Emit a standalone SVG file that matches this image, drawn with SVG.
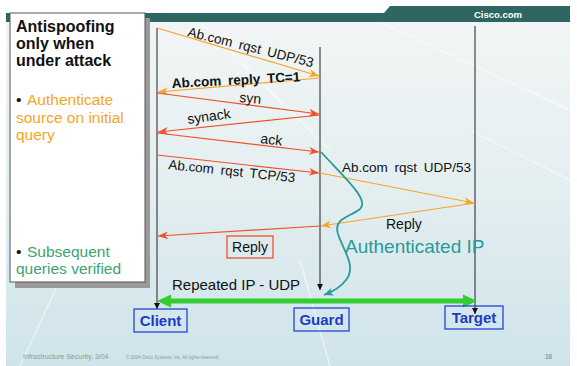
<svg xmlns="http://www.w3.org/2000/svg" width="577" height="366" viewBox="0 0 577 366">
<defs>
<linearGradient id="bg" x1="0" y1="0" x2="0" y2="1">
<stop offset="0" stop-color="#f2f5f5"/>
<stop offset="0.5" stop-color="#e3eef0"/>
<stop offset="1" stop-color="#cfe4ea"/>
</linearGradient>
<marker id="aRed" markerUnits="userSpaceOnUse" markerWidth="12" markerHeight="10" refX="10" refY="4" orient="auto">
<path d="M0,0 L10,4 L0,8 L3,4 z" fill="#f0502a"/>
</marker>
<marker id="aOr" markerUnits="userSpaceOnUse" markerWidth="12" markerHeight="10" refX="10" refY="4" orient="auto">
<path d="M0,0 L10,4 L0,8 L3,4 z" fill="#f7a526"/>
</marker>
<marker id="aBlk" markerUnits="userSpaceOnUse" markerWidth="8" markerHeight="8" refX="6" refY="3" orient="auto">
<path d="M0,0 L6,3 L0,6 z" fill="#111"/>
</marker>
<marker id="aTeal" markerUnits="userSpaceOnUse" markerWidth="12" markerHeight="10" refX="9" refY="4" orient="auto">
<path d="M0,0 L9,4 L0,8 L2,4 z" fill="#2a9a9a"/>
</marker>
</defs>
<style>
.t{font-family:"Liberation Sans",Arial,sans-serif;fill:#111}
.msg{font-size:13.5px;word-spacing:3px}
.red{stroke:#f0502a;stroke-width:1.2;fill:none;marker-end:url(#aRed)}
.or{stroke:#f7a526;stroke-width:1.2;fill:none;marker-end:url(#aOr)}
.life{stroke:#222;stroke-width:1;fill:none;marker-end:url(#aBlk)}
.nb{fill:none;stroke:#2046d8;stroke-width:1.3}
.nt{font-family:"Liberation Sans",Arial,sans-serif;font-weight:bold;font-size:15px;fill:#1a3cc8;text-anchor:middle}
</style>
<rect width="577" height="366" fill="#ffffff"/>
<rect x="6" y="22" width="564" height="344" fill="url(#bg)"/>
<g stroke="#ffffff" stroke-opacity="0.5" stroke-width="1.5" fill="none">
<line x1="200" y1="22" x2="330" y2="150"/>
<line x1="380" y1="22" x2="570" y2="110"/>
<line x1="470" y1="130" x2="570" y2="180"/>
<line x1="20" y1="366" x2="60" y2="280"/>
<line x1="330" y1="366" x2="300" y2="260"/>
</g>
<g id="header">
<path d="M6,13 L384,13 L390,6 L570,6 L570,22 L6,22 z" fill="#2e6662"/>
<text x="498" y="18" font-family="'Liberation Sans',Arial,sans-serif" font-weight="bold" font-size="9.5" fill="#ffffff" text-anchor="middle">Cisco.com</text>
</g>
<g id="sidebox">
<rect x="15" y="18" width="135" height="270" fill="#9a9a9a"/>
<rect x="10" y="13" width="135" height="269" fill="#ffffff" stroke="#555" stroke-width="1"/>
<text class="t" font-weight="bold" font-size="16"><tspan x="16" y="32">Antispoofing</tspan><tspan x="16" y="49">only when</tspan><tspan x="16" y="66">under attack</tspan></text>
<text class="t" font-size="15.5"><tspan x="16" y="105">•</tspan><tspan x="27" y="105" fill="#f7a526">Authenticate</tspan><tspan x="16" y="123" fill="#f7a526">source on initial</tspan><tspan x="16" y="140" fill="#f7a526">query</tspan></text>
<text class="t" font-size="15.5"><tspan x="16" y="257">•</tspan><tspan x="27" y="257" fill="#3aa472">Subsequent</tspan><tspan x="16" y="274" fill="#3aa472">queries verified</tspan></text>
</g>
<g id="connectors">
<line class="life" x1="157" y1="28" x2="157" y2="309"/>
<line class="life" x1="320" y1="47" x2="320" y2="290"/>
<line class="life" x1="475" y1="26" x2="475" y2="314"/>
<line class="or" x1="157" y1="28" x2="319" y2="76"/>
<line class="or" x1="320" y1="78" x2="158" y2="92"/>
<line class="red" x1="157" y1="93" x2="319" y2="114"/>
<line class="red" x1="320" y1="115" x2="158" y2="132"/>
<line class="red" x1="157" y1="133" x2="319" y2="152"/>
<line class="red" x1="157" y1="155" x2="319" y2="173"/>
<line class="or" x1="320" y1="173" x2="474" y2="203"/>
<line class="or" x1="475" y1="203" x2="321" y2="226"/>
<line class="red" x1="320" y1="226" x2="158" y2="236"/>
<path d="M321,152 C345,178 370,200 360,209 C350,217 333,218 338,234 C343,250 357,266 346,280 C340,288 332,292 324,295" stroke="#2a9a9a" stroke-width="1.8" fill="none" marker-end="url(#aTeal)"/>
<line x1="169" y1="301" x2="465" y2="301" stroke="#33cc33" stroke-width="5"/>
<polygon points="157,301 171,294.5 171,307.5" fill="#33cc33"/>
<polygon points="477,301 463,294.5 463,307.5" fill="#33cc33"/>
</g>
<g id="labels">
<text class="t msg" transform="translate(187,36) rotate(14)">Ab.com rqst UDP/53</text>
<text class="t msg" font-weight="bold" word-spacing="2" transform="translate(172,88) rotate(-3)">Ab.com reply TC=1</text>
<text class="t" font-size="14" transform="translate(239,102) rotate(5)">syn</text>
<text class="t" font-size="14" transform="translate(188,124) rotate(-8)">synack</text>
<text class="t" font-size="14" transform="translate(260,143) rotate(7)">ack</text>
<text class="t msg" word-spacing="6" transform="translate(168,169) rotate(6)">Ab.com rqst TCP/53</text>
<text class="t msg" x="342" y="172" font-size="14" word-spacing="4">Ab.com rqst UDP/53</text>
<text class="t" x="386" y="229" font-size="14">Reply</text>
<text x="345" y="253" font-family="'Liberation Sans',Arial,sans-serif" font-size="19" fill="#2a9a9a">Authenticated IP</text>
<text class="t" x="172" y="290" font-size="15">Repeated IP - UDP</text>
</g>
<g id="replybox">
<rect x="227" y="236" width="46" height="22" fill="none" stroke="#f0502a" stroke-width="1.3"/>
<text class="t" x="250" y="252" font-size="14" text-anchor="middle">Reply</text>
</g>
<g id="client">
<rect class="nb" x="134" y="309" width="53" height="23"/>
<text class="nt" x="160.5" y="326">Client</text>
</g>
<g id="guard">
<rect class="nb" x="294" y="308" width="55" height="23"/>
<text class="nt" x="321.5" y="325">Guard</text>
</g>
<g id="target">
<rect class="nb" x="445" y="306" width="58" height="23"/>
<text class="nt" x="474" y="323">Target</text>
</g>
<g id="footer" font-family="'Liberation Sans',Arial,sans-serif" fill="#8a9a9e">
<text x="23" y="359" font-size="7">Infrastructure  Security, 3/04</text>
<text x="126" y="359" font-size="4.5">© 2004 Cisco Systems, Inc. All rights reserved.</text>
<text x="545" y="359" font-size="6.5" font-weight="bold">16</text>
</g>
</svg>
